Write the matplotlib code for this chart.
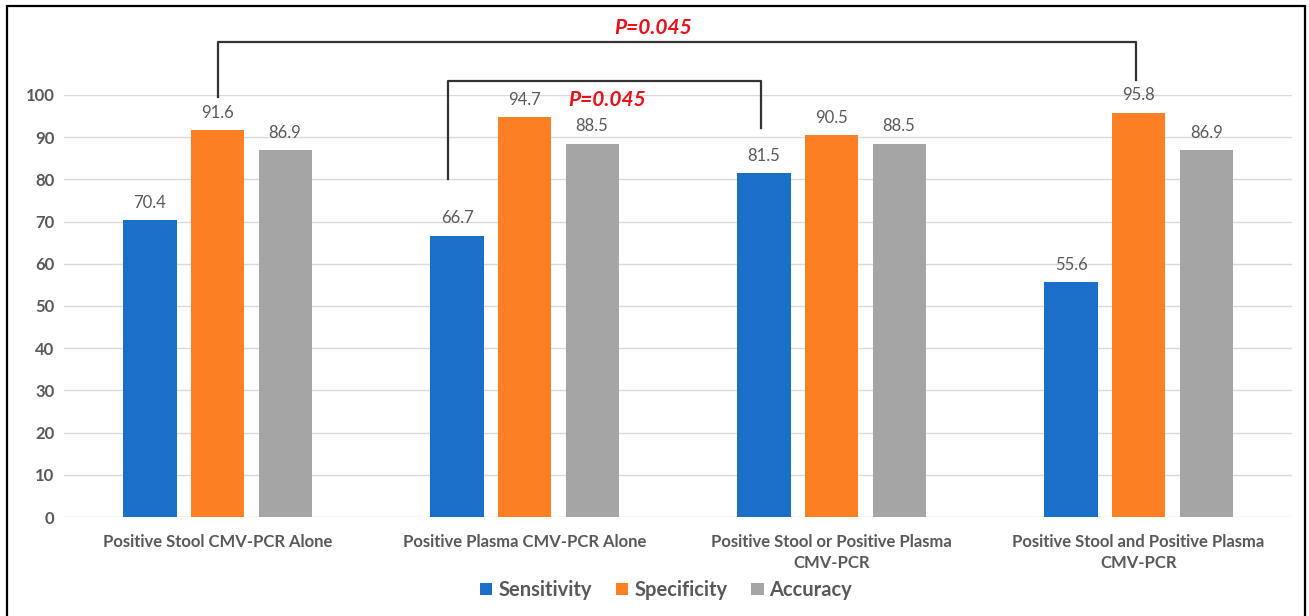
import numpy as np
import matplotlib.pyplot as plt
from matplotlib.patches import Rectangle

categories = [
    "Positive Stool CMV-PCR Alone",
    "Positive Plasma CMV-PCR Alone",
    "Positive Stool or Positive Plasma\nCMV-PCR",
    "Positive Stool and Positive Plasma\nCMV-PCR",
]
series = ["Sensitivity", "Specificity", "Accuracy"]
sensitivity = [70.4, 66.7, 81.5, 55.6]
specificity = [91.6, 94.7, 90.5, 95.8]
accuracy = [86.9, 88.5, 88.5, 86.9]
y_ticks = list(range(0, 101, 10))
p_label = "P=0.045"

colors = ["#1a6fc6", "#fd7f23", "#a5a5a5"]
text_gray = "#595959"

plt.rcParams["font.family"] = ["Lato", "DejaVu Sans"]

fig = plt.figure(figsize=(13.09, 6.16), dpi=100)
ax = fig.add_axes([0.0489, 0.1607, 0.9382, 0.6851])

x = np.arange(len(categories))
width = 0.173
step = 0.22
for i, (name, vals) in enumerate(zip(series, [sensitivity, specificity, accuracy])):
    pos = x + (i - 1) * step
    ax.bar(pos, vals, width, color=colors[i], label=name, zorder=3)
    for px, v in zip(pos, vals):
        ax.text(px, v + 2.2, f"{v:.1f}", ha="center", va="bottom",
                fontsize=12, color=text_gray)

ax.set_xlim(-0.5, 3.5)
ax.set_ylim(0, 100)
ax.set_yticks(y_ticks)
ax.set_xticks(x)
ax.set_xticklabels(categories, fontsize=12, fontweight="bold", color=text_gray,
                   linespacing=1.4)
ax.tick_params(axis="y", length=0, pad=7, labelsize=12, labelcolor=text_gray)
for lab in ax.get_yticklabels():
    lab.set_fontweight("bold")
ax.tick_params(axis="x", length=0, pad=12)
for s in ax.spines.values():
    s.set_visible(False)
ax.yaxis.grid(True, color="#d9d9d9", linewidth=1, zorder=0)

# significance brackets
def bracket(x0, x1, y_top, y0, y1):
    ax.plot([x0, x0, x1, x1], [y0, y_top, y_top, y1], color="#333333",
            linewidth=1.6, clip_on=False, zorder=4)

bracket(x[0], x[3] - 0.01, 112.6, 99.5, 103.5)
ax.text(1.42, 115.9, p_label, ha="center", va="center", fontsize=15,
        fontweight="bold", style="italic", color="#e8101a")
bracket(x[1] - step - 0.03, x[2] - step - 0.01, 103.4, 80.0, 92.2)
ax.text(1.27, 98.8, p_label, ha="center", va="center", fontsize=15,
        fontweight="bold", style="italic", color="#e8101a")

leg = fig.legend(loc="center", bbox_to_anchor=(0.509, 0.042), ncol=3,
                 frameon=False, fontsize=14.5, handlelength=0.6,
                 handleheight=0.6, handletextpad=0.3, columnspacing=1.2)
for t in leg.get_texts():
    t.set_color(text_gray)
    t.set_fontweight("bold")

fig.patches.append(Rectangle((7 / 1309, -0.01), 1298 / 1309, 1.0 - 6 / 616 + 0.01,
                             transform=fig.transFigure, fill=False,
                             edgecolor="black", linewidth=1.6))

fig.savefig("out.png", dpi=100)
